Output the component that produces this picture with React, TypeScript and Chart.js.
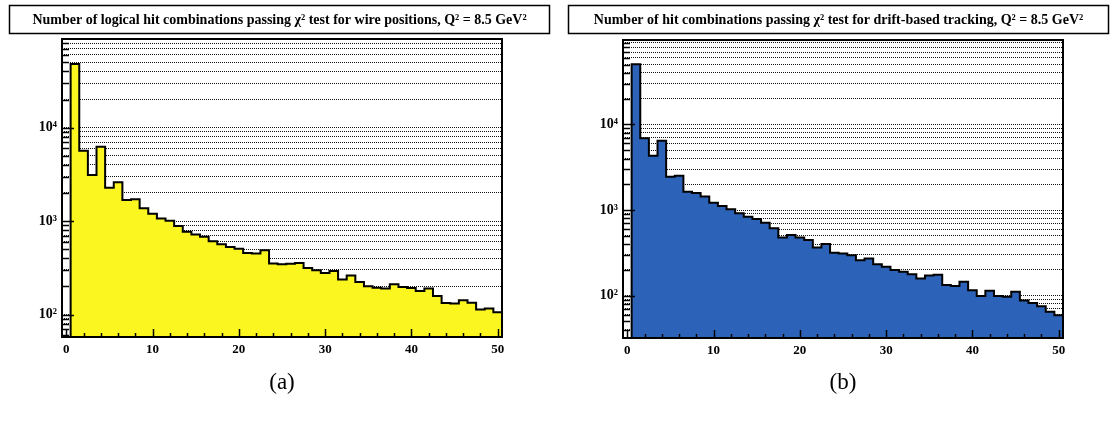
import React, { useEffect, useRef } from 'react';
import { Chart, registerables } from 'chart.js';

Chart.register(...registerables);

// ---- data ----
const binCenters = [
  1, 2, 3, 4, 5, 6, 7, 8, 9, 10, 11, 12, 13, 14, 15, 16, 17, 18, 19, 20,
  21, 22, 23, 24, 25, 26, 27, 28, 29, 30, 31, 32, 33, 34, 35, 36, 37, 38, 39, 40,
  41, 42, 43, 44, 45, 46, 47, 48, 49, 50,
];

const wireCounts = [
  48000, 5680, 3120, 6270, 2280, 2600, 1680, 1710, 1370, 1200,
  1070, 1010, 884, 768, 719, 679, 610, 566, 530, 505,
  457, 450, 489, 351, 346, 350, 357, 315, 298, 279,
  293, 237, 261, 223, 201, 194, 190, 211, 197, 192,
  179, 190, 158, 133, 131, 142, 134, 113, 116, 106,
];

const driftCounts = [
  50600, 6900, 4300, 6470, 2450, 2520, 1640, 1580, 1440, 1218,
  1114, 1019, 915, 835, 785, 710, 611, 479, 510, 479,
  446, 366, 400, 317, 311, 297, 260, 272, 233, 217,
  199, 190, 178, 159, 172, 175, 133, 130, 145, 116,
  99, 114, 99, 97, 111, 88, 82, 75, 65, 59,
];

const xTickValues = [0, 2, 4, 6, 8, 10, 12, 14, 16, 18, 20, 22, 24, 26, 28, 30, 32, 34, 36, 38, 40, 42, 44, 46, 48, 50];
const xLabelValues = [0, 10, 20, 30, 40, 50];

const yTickValues = [
  30, 40, 50, 60, 70, 80, 90,
  100, 200, 300, 400, 500, 600, 700, 800, 900,
  1000, 2000, 3000, 4000, 5000, 6000, 7000, 8000, 9000,
  10000, 20000, 30000, 40000, 50000, 60000, 70000, 80000, 90000,
];
const yLabelValues = [100, 1000, 10000];
const yLabelTexts = ['10²', '10³', '10⁴'];

const titleWire = 'Number of logical hit combinations passing χ² test for wire positions, Q² = 8.5 GeV²';
const titleDrift = 'Number of hit combinations passing χ² test for drift-based tracking, Q² = 8.5 GeV²';

const SERIF = "'Liberation Serif', 'Times New Roman', serif";

type PanelProps = {
  title: string;
  caption: string;
  counts: number[];
  color: string;
  yMin: number;
  yMax: number;
  axisWidth: number;
  padRight: number;
  padTop: number;
  xAxisHeight: number;
};

const rootPlugin = {
  id: 'rootStyle',
  afterDatasetsDraw(chart: any) {
    const { ctx, chartArea: a, scales } = chart;
    const xs = scales.x;
    const ys = scales.y;
    ctx.save();
    ctx.strokeStyle = '#000';
    ctx.lineWidth = 1.5;
    for (const t of ys.ticks) {
      const py = Math.round(ys.getPixelForValue(t.value)) + 0.5;
      const major = yLabelValues.includes(t.value);
      ctx.beginPath();
      ctx.moveTo(a.left, py);
      ctx.lineTo(a.left + (major ? 12 : 7), py);
      ctx.stroke();
    }
    for (const t of xs.ticks) {
      const px = Math.round(xs.getPixelForValue(t.value)) + 0.5;
      const major = xLabelValues.includes(t.value);
      ctx.beginPath();
      ctx.moveTo(px, a.bottom);
      ctx.lineTo(px, a.bottom - (major ? 8 : 4));
      ctx.stroke();
    }
    ctx.lineWidth = 2;
    ctx.strokeRect(a.left, a.top, a.right - a.left, a.bottom - a.top);
    ctx.restore();
  },
  afterDraw(chart: any, _args: any, opts: any) {
    const { ctx } = chart;
    ctx.save();
    ctx.strokeStyle = '#000';
    ctx.lineWidth = 1.5;
    ctx.strokeRect(9.5, 5.5, chart.width - 19, 28);
    ctx.fillStyle = '#000';
    ctx.font = `bold 14px ${SERIF}`;
    ctx.textAlign = 'center';
    ctx.textBaseline = 'middle';
    ctx.fillText(opts.text, chart.width / 2, 20);
    ctx.restore();
  },
};

function Panel(p: PanelProps) {
  const ref = useRef<HTMLCanvasElement | null>(null);
  useEffect(() => {
    if (!ref.current) return;
    const points: { x: number; y: number }[] = [{ x: binCenters[0] - 0.5, y: p.yMin }];
    binCenters.forEach((c, i) => points.push({ x: c - 0.5, y: p.counts[i] }));
    points.push({ x: binCenters[binCenters.length - 1] + 0.5, y: p.counts[p.counts.length - 1] });

    const chart = new Chart(ref.current, {
      type: 'line',
      data: {
        datasets: [
          {
            data: points,
            stepped: 'before',
            fill: 'start',
            backgroundColor: p.color,
            borderColor: '#000',
            borderWidth: 2,
            pointRadius: 0,
            tension: 0,
          },
        ],
      },
      plugins: [rootPlugin],
      options: {
        animation: false,
        responsive: false,
        layout: { padding: { top: p.padTop, left: 0, right: p.padRight, bottom: 0 } },
        plugins: {
          legend: { display: false },
          tooltip: { enabled: false },
          title: { display: false },
          rootStyle: { text: p.title },
        } as any,
        scales: {
          x: {
            type: 'linear',
            min: -0.5,
            max: 50.5,
            afterBuildTicks: (s: any) => {
              s.ticks = xTickValues.map((v) => ({ value: v }));
            },
            afterFit: (s: any) => {
              s.height = p.xAxisHeight;
            },
            grid: { display: true, drawOnChartArea: false, drawTicks: false },
            border: { display: false },
            ticks: {
              autoSkip: false,
              maxRotation: 0,
              padding: 5,
              color: '#000',
              font: { family: SERIF, size: 13, weight: 'bold' },
              callback: (v: any) => (xLabelValues.includes(Number(v)) ? String(v) : ''),
            },
            title: {
              display: true,
              text: p.caption,
              color: '#000',
              font: { family: SERIF, size: 23, weight: 'normal' },
              padding: { top: 0, bottom: 26 },
            },
          },
          y: {
            type: 'logarithmic',
            min: p.yMin,
            max: p.yMax,
            afterBuildTicks: (s: any) => {
              s.ticks = yTickValues.filter((v) => v >= p.yMin && v <= p.yMax).map((v) => ({ value: v }));
            },
            afterFit: (s: any) => {
              s.width = p.axisWidth;
            },
            grid: { color: '#111', lineWidth: 1, drawTicks: false },
            border: { display: false, dash: [1, 1] },
            ticks: {
              autoSkip: false,
              padding: 5,
              color: '#000',
              font: { family: SERIF, size: 14, weight: 'bold' },
              callback: (v: any) => {
                const i = yLabelValues.indexOf(Number(v));
                return i >= 0 ? yLabelTexts[i] : '';
              },
            },
          },
        },
      } as any,
    });
    return () => chart.destroy();
  }, []);
  return <canvas ref={ref} width={559} height={423} style={{ display: 'block', width: 559, height: 423 }} />;
}

export default function App() {
  return (
    <div style={{ position: 'absolute', left: 0, top: 0, width: 1118, height: 423, display: 'flex', background: '#fff' }}>
      <Panel
        title={titleWire}
        caption="(a)"
        counts={wireCounts}
        color="#fbf520"
        yMin={57.5}
        yMax={89000}
        axisWidth={62}
        padRight={57}
        padTop={39}
        xAxisHeight={86}
      />
      <Panel
        title={titleDrift}
        caption="(b)"
        counts={driftCounts}
        color="#2c63b9"
        yMin={32}
        yMax={97000}
        axisWidth={64}
        padRight={55}
        padTop={40}
        xAxisHeight={85}
      />
    </div>
  );
}
